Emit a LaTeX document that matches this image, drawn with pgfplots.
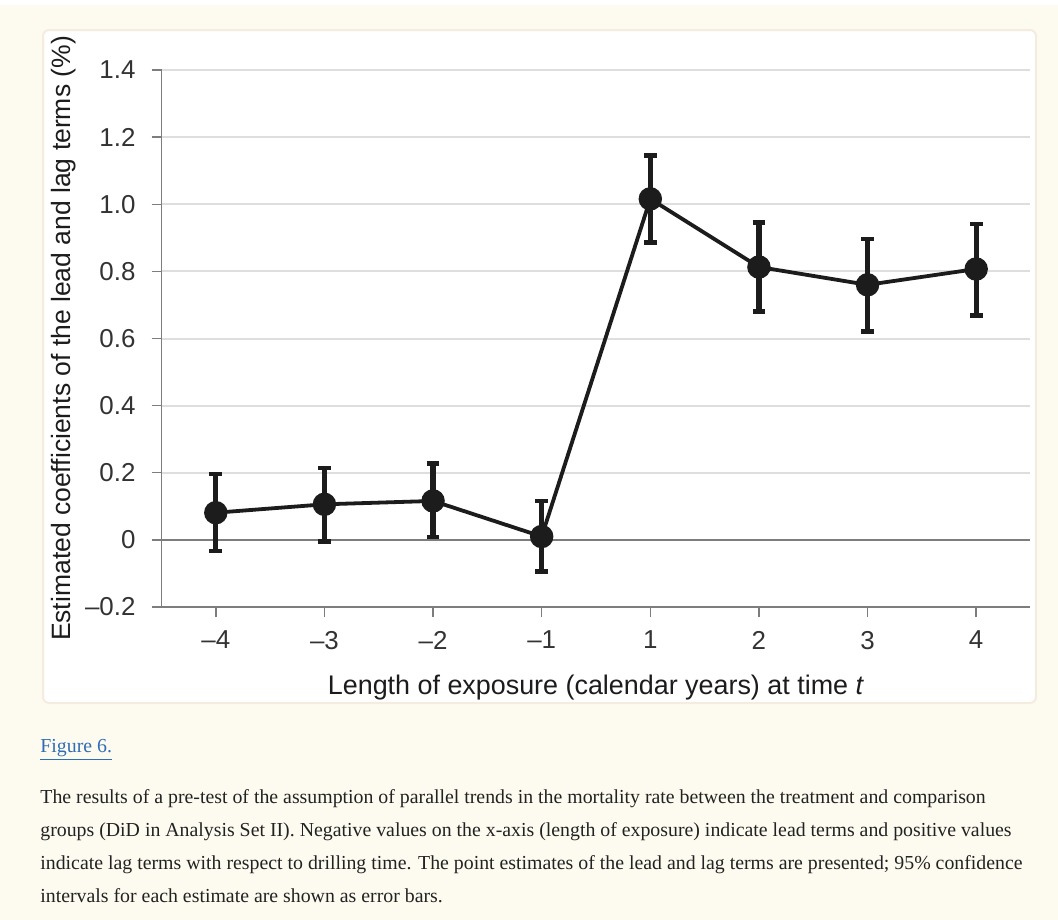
\documentclass[border=0pt]{standalone}
\usepackage{pgfplots}
\pgfplotsset{compat=1.18}
\usepackage{fontspec}
\setmainfont{Liberation Sans}
\newfontfamily\capfont{Liberation Serif}

\definecolor{bg}{RGB}{253,251,240}
\definecolor{panelborder}{RGB}{246,236,222}
\definecolor{gridc}{RGB}{222,222,222}
\definecolor{spine}{RGB}{125,125,125}
\definecolor{ink}{RGB}{28,28,28}
\definecolor{linkblue}{RGB}{47,109,181}
\definecolor{captxt}{RGB}{34,34,34}

\begin{document}
\begin{tikzpicture}
\useasboundingbox (0,0) rectangle (529bp,-460bp);
\fill[bg] (0,0) rectangle (529bp,-460bp);
\fill[white] (0,0) rectangle (529bp,-2.5bp);
\filldraw[fill=white, draw=panelborder, line width=1bp, rounded corners=3bp]
    (21.5bp,-15bp) rectangle (518bp,-351.5bp);

\begin{axis}[
    at={(80.75bp,-303.5bp)}, anchor=south west,
    scale only axis,
    width=434.5bp, height=268.5bp,
    xmin=-0.5, xmax=7.5,
    ymin=-0.2, ymax=1.4,
    axis x line*=bottom,
    axis y line*=left,
    axis line style={-, spine, line width=0.8bp},
    xtick={0,1,2,3,4,5,6,7},
    xticklabels={--4,--3,--2,--1,1,2,3,4},
    ytick={-0.2,0,0.2,0.4,0.6,0.8,1.0,1.2,1.4},
    yticklabels={--0.2,0,0.2,0.4,0.6,0.8,1.0,1.2,1.4},
    tick align=outside,
    major tick length=5bp,
    tick style={spine, line width=0.7bp},
    ticklabel style={font=\fontsize{13}{15}\selectfont, text=ink!90},
    yticklabel style={xshift=-4.5bp},
    xticklabel style={yshift=-3.5bp},
    ymajorgrids,
    major grid style={gridc, line width=1bp},
    xlabel={Length of exposure (calendar years) at time \textit{t}},
    ylabel={Estimated coefficients of the lead and lag terms (\%)},
    every axis x label/.style={at={(axis description cs:0.5,-0.15)}, anchor=center,
        font=\fontsize{13.5}{16}\selectfont, text=ink},
    every axis y label/.style={at={(axis description cs:-0.1128,0.5)}, rotate=90, anchor=center,
        font=\fontsize{13.3}{16}\selectfont, text=ink},
    clip=false,
]
\draw[spine, line width=0.8bp] (axis cs:-0.5,0) -- (axis cs:7.5,0);
\addplot[ink, line width=1.9bp, mark=*, mark size=4.9bp,
    mark options={fill=ink, draw=ink},
    error bars/.cd, y dir=both, y explicit,
    error bar style={line width=2.6bp, ink},
    error mark options={rotate=90, mark size=3.2bp, line width=2.2bp, ink}]
coordinates {
    (0, 0.081) += (0,0.115) -= (0,0.114)
    (1, 0.106) += (0,0.108) -= (0,0.111)
    (2, 0.116) += (0,0.111) -= (0,0.108)
    (3, 0.010) += (0,0.106) -= (0,0.104)
    (4, 1.016) += (0,0.129) -= (0,0.130)
    (5, 0.813) += (0,0.133) -= (0,0.133)
    (6, 0.760) += (0,0.136) -= (0,0.139)
    (7, 0.807) += (0,0.134) -= (0,0.138)
};
\end{axis}

\node[anchor=base west, inner sep=0, text=linkblue, font=\capfont\fontsize{9.95}{11}\selectfont]
    at (20bp,-376bp) {\underline{Figure 6.}};
\begin{scope}[every node/.style={anchor=base west, inner sep=0, text=captxt,
    font=\capfont\fontsize{9.95}{11}\selectfont}]
\node at (20bp,-401.5bp) {The results of a pre-test of the assumption of parallel trends in the mortality rate between the treatment and comparison};
\node at (20bp,-418bp) {groups (DiD in Analysis Set II). Negative values on the x-axis (length of exposure) indicate lead terms and positive values};
\node at (20bp,-434.5bp) {indicate lag terms with respect to drilling time. The point estimates of the lead and lag terms are presented; 95\% confidence};
\node at (20bp,-451bp) {intervals for each estimate are shown as error bars.};
\end{scope}
\end{tikzpicture}
\end{document}
